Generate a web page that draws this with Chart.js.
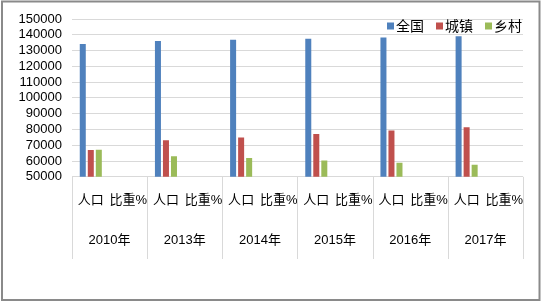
<!DOCTYPE html>
<html><head><meta charset="utf-8">
<script src="https://cdn.jsdelivr.net/npm/chart.js@4"></script>
<style>html,body{margin:0;padding:0;background:#fff}#wrap{position:absolute;left:0;top:0;width:543px;height:304px}</style>
</head><body><div id="wrap"><canvas id="c" width="543" height="304"></canvas></div>
<script>
const years = ["2010年","2013年","2014年","2015年","2016年","2017年"];
const subLabels = ["人口","比重%"];
const categories = [];
years.forEach(() => subLabels.forEach(s => categories.push(s)));
const seriesNames = ["全国","城镇","乡村"];
const totalPop = [134091, null, 136072, null, 136782, null, 137462, null, 138271, null, 139008, null];
const urbanPop = [66978, null, 73111, null, 74916, null, 77116, null, 79298, null, 81347, null];
const ruralPop = [67113, null, 62961, null, 61866, null, 60346, null, 58973, null, 57661, null];
const colors = ["#4f81bd","#c0504d","#9bbb59"];
const FONT = "'Liberation Sans', 'Noto Sans CJK SC', sans-serif";

const decor = {
  id: 'decor',
  afterDraw(chart) {
    const ctx = chart.ctx, x = chart.scales.x, x2 = chart.scales.x2, ca = chart.chartArea;
    const half = (x.getPixelForValue(1) - x.getPixelForValue(0)) / 2;
    ctx.save();
    ctx.strokeStyle = '#d9d9d9'; ctx.lineWidth = 1;
    for (let i = 0; i <= years.length; i++) {
      const px = i < years.length ? x.getPixelForValue(i*2) - half : x.getPixelForValue(categories.length-1) + half;
      ctx.beginPath(); ctx.moveTo(Math.round(px)+0.5, ca.bottom); ctx.lineTo(Math.round(px)+0.5, x2.bottom + 3); ctx.stroke();
    }
    // legend
    ctx.font = "14px 'Noto Sans CJK SC', sans-serif";
    ctx.textBaseline = 'middle';
    const box = 7, gapTxt = 2, gapItem = 12;
    const items = chart.data.datasets.map(d => ({t: d.label, c: d.backgroundColor, w: box + gapTxt + ctx.measureText(d.label).width}));
    const total = items.reduce((s, it) => s + it.w, 0) + gapItem * (items.length - 1);
    let lx = ca.right - 1 - total;
    const ly = ca.top + 7;
    items.forEach(it => {
      ctx.fillStyle = it.c; ctx.fillRect(lx, ly - 3.5, box, box);
      ctx.fillStyle = '#000'; ctx.fillText(it.t, lx + box + gapTxt, ly);
      lx += it.w + gapItem;
    });
    ctx.strokeStyle = '#8a8a8a'; ctx.lineWidth = 2;
    ctx.strokeRect(2, 1.5, 537.5, 298.5);
    ctx.restore();
  }
};

new Chart(document.getElementById('c'), {
  type: 'bar',
  data: {
    labels: categories,
    datasets: [
      {label: seriesNames[0], data: totalPop, backgroundColor: colors[0]},
      {label: seriesNames[1], data: urbanPop, backgroundColor: colors[1]},
      {label: seriesNames[2], data: ruralPop, backgroundColor: colors[2]}
    ]
  },
  options: {
    responsive: false, animation: false,
    layout: {padding: {left: 0, right: 20, top: 19, bottom: 48}},
    datasets: {bar: {categoryPercentage: 0.64, barPercentage: 0.75, skipNull: false}},
    plugins: {legend: {display: false}, tooltip: {enabled: false}},
    scales: {
      y: {min: 50000, max: 150000,
        afterFit: s => { s.width = 72; },
        ticks: {stepSize: 10000, autoSkip: false, color: '#000', padding: 10, font: {family: FONT, size: 13},
          callback: v => String(v)},
        grid: {color: '#d9d9d9', drawTicks: false},
        border: {display: false}},
      x: {position: 'bottom',
        ticks: {color: '#000', padding: 8, maxRotation: 0, autoSkip: false, font: {family: FONT, size: 13}},
        grid: {display: false}, border: {display: false}},
      x2: {type: 'category', labels: years, position: 'bottom', offset: true,
        ticks: {color: '#000', padding: 8, maxRotation: 0, autoSkip: false, font: {family: FONT, size: 13}},
        grid: {display: false}, border: {display: false}}
    }
  },
  plugins: [decor]
});
</script></body></html>
